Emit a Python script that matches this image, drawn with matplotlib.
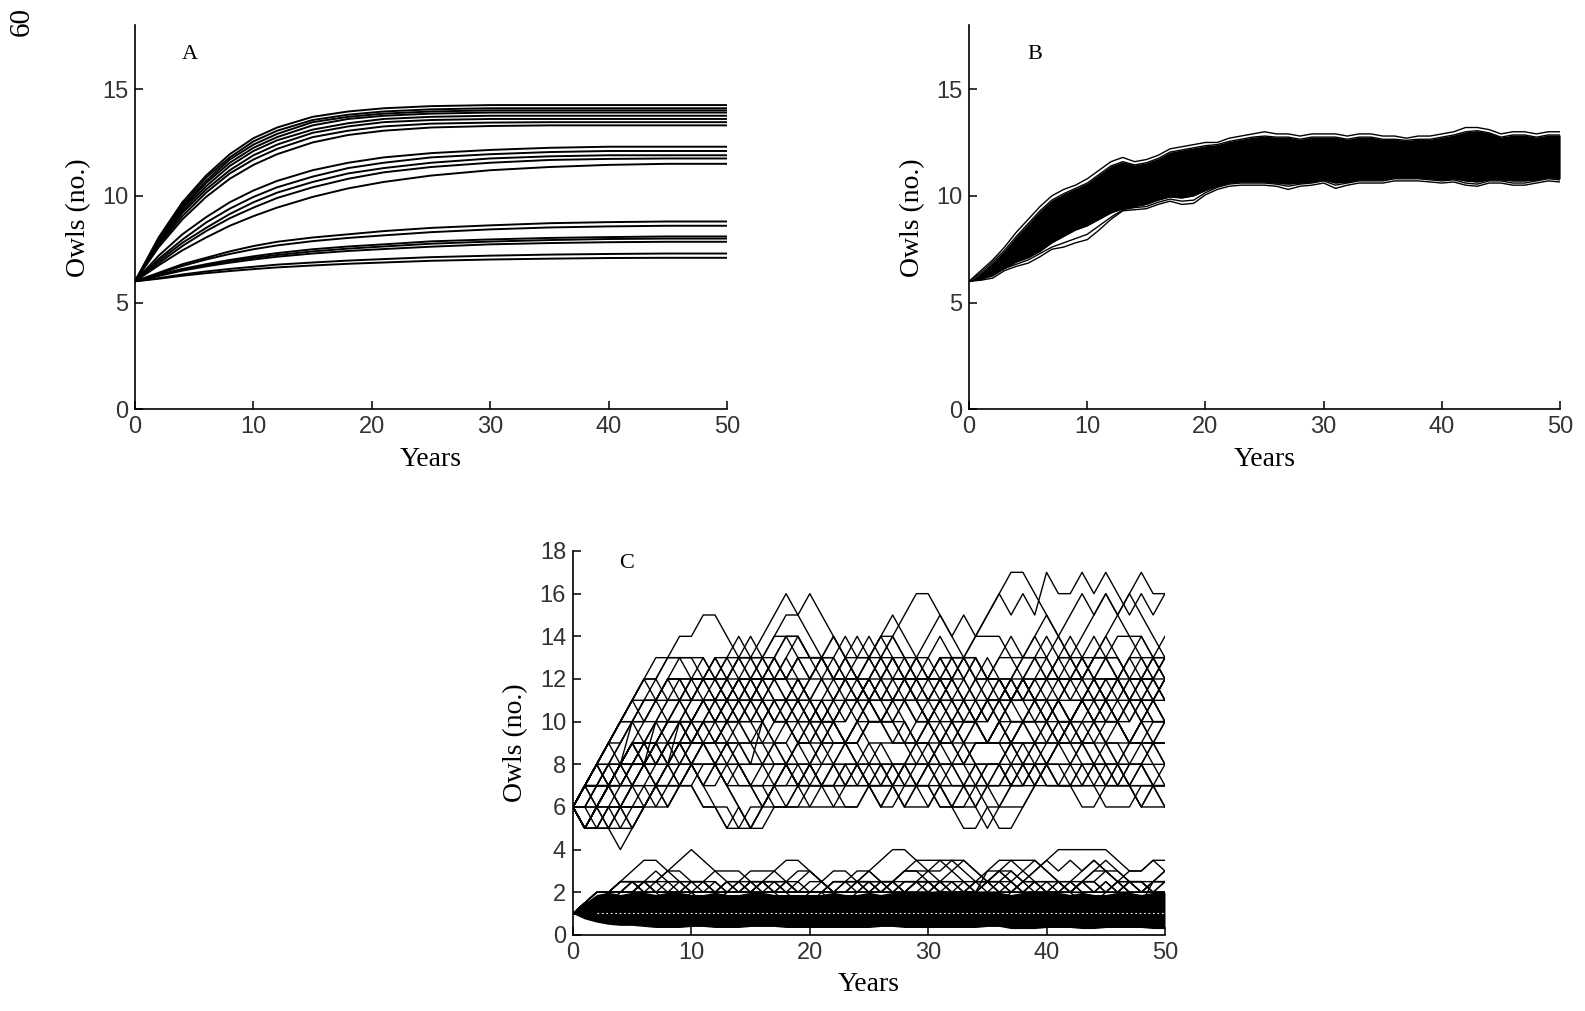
import numpy as np
import matplotlib
matplotlib.use("Agg")
import matplotlib.pyplot as plt

# ---------------- Panel A: deterministic trajectories ----------------
years_a = [0, 2, 4, 6, 8, 10, 12, 15, 18, 21, 25, 30, 35, 40, 45, 50]
a_top = [
    [6, 8.06, 9.7, 10.95, 11.95, 12.7, 13.2, 13.7, 13.95, 14.1, 14.2, 14.25, 14.25, 14.25, 14.25, 14.25],
    [6, 8.0, 9.6, 10.85, 11.8, 12.55, 13.05, 13.55, 13.8, 13.95, 14.05, 14.1, 14.1, 14.1, 14.1, 14.1],
    [6, 7.95, 9.5, 10.7, 11.7, 12.4, 12.9, 13.45, 13.7, 13.85, 13.95, 14.0, 14.0, 14.0, 14.0, 14.0],
    [6, 7.9, 9.4, 10.6, 11.55, 12.25, 12.75, 13.3, 13.6, 13.75, 13.85, 13.9, 13.9, 13.9, 13.9, 13.9],
    [6, 7.8, 9.3, 10.45, 11.4, 12.1, 12.6, 13.1, 13.4, 13.6, 13.7, 13.75, 13.75, 13.75, 13.75, 13.75],
    [6, 7.75, 9.2, 10.3, 11.2, 11.9, 12.4, 12.95, 13.25, 13.45, 13.55, 13.6, 13.6, 13.6, 13.6, 13.6],
    [6, 7.7, 9.05, 10.15, 11.05, 11.7, 12.2, 12.75, 13.05, 13.25, 13.38, 13.43, 13.45, 13.45, 13.45, 13.45],
    [6, 7.6, 8.9, 9.95, 10.8, 11.45, 11.95, 12.5, 12.85, 13.05, 13.2, 13.27, 13.3, 13.3, 13.3, 13.3],
]
a_mid = [
    [6, 7.2, 8.2, 9.0, 9.7, 10.25, 10.7, 11.2, 11.55, 11.8, 12.0, 12.15, 12.25, 12.3, 12.3, 12.3],
    [6, 7.05, 7.95, 8.75, 9.4, 9.95, 10.4, 10.9, 11.3, 11.55, 11.8, 11.95, 12.05, 12.1, 12.1, 12.1],
    [6, 6.95, 7.8, 8.5, 9.15, 9.7, 10.15, 10.65, 11.05, 11.3, 11.55, 11.75, 11.85, 11.9, 11.9, 11.9],
    [6, 6.85, 7.65, 8.35, 8.95, 9.45, 9.9, 10.4, 10.8, 11.1, 11.35, 11.55, 11.68, 11.73, 11.75, 11.75],
    [6, 6.75, 7.45, 8.05, 8.6, 9.05, 9.45, 9.95, 10.35, 10.65, 10.95, 11.2, 11.35, 11.45, 11.5, 11.5],
]
a_low = [
    [6, 6.4, 6.8, 7.1, 7.4, 7.65, 7.85, 8.05, 8.2, 8.35, 8.5, 8.62, 8.72, 8.77, 8.8, 8.8],
    [6, 6.35, 6.72, 7.02, 7.28, 7.5, 7.68, 7.88, 8.03, 8.15, 8.3, 8.43, 8.52, 8.57, 8.6, 8.6],
    [6, 6.3, 6.58, 6.8, 7.0, 7.17, 7.32, 7.5, 7.63, 7.73, 7.87, 7.96, 8.03, 8.07, 8.1, 8.1],
    [6, 6.28, 6.54, 6.75, 6.94, 7.1, 7.23, 7.4, 7.53, 7.63, 7.76, 7.86, 7.93, 7.98, 8.0, 8.0],
    [6, 6.25, 6.5, 6.7, 6.87, 7.02, 7.15, 7.3, 7.42, 7.51, 7.62, 7.73, 7.79, 7.83, 7.85, 7.85],
    [6, 6.15, 6.32, 6.46, 6.58, 6.68, 6.78, 6.88, 6.97, 7.04, 7.13, 7.2, 7.25, 7.28, 7.3, 7.3],
    [6, 6.12, 6.26, 6.38, 6.48, 6.57, 6.65, 6.74, 6.82, 6.88, 6.96, 7.02, 7.06, 7.09, 7.1, 7.1],
]

# ---------------- Panel B: band of stochastic trajectories ----------------
years_b = list(range(51))
b_upper_edge = [6.0, 6.5, 7.0, 7.6, 8.3, 8.9, 9.5, 10.0, 10.3, 10.5, 10.8,
                11.2, 11.6, 11.8, 11.6, 11.7, 11.9, 12.2, 12.3, 12.4, 12.5,
                12.5, 12.7, 12.8, 12.9, 13.0, 12.9, 12.9, 12.8, 12.9, 12.9,
                12.9, 12.8, 12.9, 12.9, 12.8, 12.8, 12.7, 12.8, 12.8, 12.9,
                13.0, 13.2, 13.2, 13.1, 12.9, 13.0, 13.0, 12.9, 13.0, 13.0]
b_lower_edge = [6.0, 6.05, 6.15, 6.5, 6.7, 6.85, 7.15, 7.5, 7.6, 7.8, 7.95,
                8.4, 8.9, 9.3, 9.35, 9.4, 9.6, 9.75, 9.6, 9.65, 10.05,
                10.3, 10.45, 10.5, 10.5, 10.5, 10.45, 10.3, 10.45, 10.5, 10.6,
                10.35, 10.5, 10.6, 10.6, 10.6, 10.7, 10.7, 10.7, 10.65, 10.6,
                10.65, 10.5, 10.45, 10.6, 10.6, 10.5, 10.5, 10.6, 10.7, 10.65]
b_lower_2 = [6.0, 6.1, 6.25, 6.6, 6.8, 7.0, 7.3, 7.6, 7.8, 8.0, 8.2,
             8.6, 9.0, 9.35, 9.45, 9.5, 9.7, 9.85, 9.75, 9.8, 10.15,
             10.4, 10.55, 10.6, 10.6, 10.6, 10.55, 10.45, 10.55, 10.6, 10.7,
             10.5, 10.6, 10.7, 10.7, 10.7, 10.8, 10.8, 10.8, 10.75, 10.7,
             10.75, 10.6, 10.55, 10.7, 10.7, 10.6, 10.6, 10.7, 10.8, 10.75]
b_core_low = [6.0, 6.1, 6.3, 6.6, 6.9, 7.1, 7.4, 7.8, 8.1, 8.4, 8.6,
              8.9, 9.2, 9.4, 9.5, 9.6, 9.8, 9.95, 9.9, 10.0, 10.25,
              10.45, 10.6, 10.65, 10.65, 10.65, 10.6, 10.55, 10.6, 10.65, 10.75,
              10.6, 10.65, 10.75, 10.75, 10.75, 10.85, 10.85, 10.85, 10.8, 10.75,
              10.8, 10.7, 10.65, 10.75, 10.75, 10.7, 10.7, 10.75, 10.85, 10.8]
b_core_high = [6.0, 6.4, 6.9, 7.45, 8.1, 8.7, 9.3, 9.8, 10.1, 10.35, 10.6,
               11.0, 11.4, 11.6, 11.45, 11.55, 11.75, 12.05, 12.15, 12.25, 12.35,
               12.4, 12.55, 12.65, 12.75, 12.8, 12.75, 12.75, 12.65, 12.75, 12.75,
               12.75, 12.65, 12.75, 12.75, 12.65, 12.65, 12.6, 12.65, 12.65, 12.75,
               12.85, 13.0, 13.05, 12.95, 12.75, 12.85, 12.85, 12.75, 12.85, 12.85]

# ---------------- Panel C: integer-valued trajectories ----------------
# upper group: owl counts per year 0..50, one base-36 digit per year
c_upper_runs = [
    "6789ABCCDEE FFEDDEFGFE DCDCBCDCBC DCBABCBCDC BCDCBABCBC",
    "6789ABCBCDD CDCDEDEFFG FEDEDCDCBA BCBA9ABCBA 9ABABCDCBC",
    "67889ABCDDD DCBCBCDEDC DEDCDEFEDC BCDEFGHHGF EDEFGFEDCD",
    "65554567678 987656789A BA98766789 A987655678 9ABA987678",
    "67889ABBCCB CDCBABCDED CBABCDEDCD EDCBABCDEF EDCDEFGFED",
    "6567898989A BABCBA9898 789A98789A BCBA9A9878 9ABCBA9A98",
    "67787898989 A9ABCBCDCB ABCBCDCBAB CDCDCBCBCD CBCDEDCDCB",
    "65656787898 7656567678 9A98787678 9A9A9ABCBA BCBABCBCDC",
    "6787898A9AB CBCDCDCBCB CDEDEDEFGG FEDCDCBCBA BABCBCBABC",
    "65676787898 9A9A9ABABA 9A9ABABA9A BABCBA989A BABABA9A9A",
    "67898A9ABCB CBCBABABCB CBCBCBCDCB CBABABCBAB CDCBCBABCB",
    "65676567878 7876567878 9898767898 7676567898 9A9898789A",
    "678787898A9 ABABCBABAB ABCBCBABCB ABCDCDEDED EFGFGFGHGG",
    "6789ABABCBC DCDEDCDCBC DEDCBCDCDE FEFEFGFGFH GGHGHGFGFG",
    "656789989A9 A9898A9ABA 9A9ABA9A9A 9898789A9A BABCBABABA",
    "676789ABABA BABCDCDCBA BABCBABCBA 9A9ABABCBC DCDCDCBCDC",
    "65656767878 9898789878 7878767676 7676787878 9898787676",
    "67878989ABA BCBCBCDCDC DCDCDEDCDC DCDCBCBCDE DEDEDCDEDE",
    "6567878989A BABABABA9A BCBABCBCBA BABA9A9ABA 9A9A9A9ABA",
    "65676567678 7878767878 7787877878 7878778787 7787877877",
    "6789AABBCCC CCDDCCBBCC DDCCDDCCDD CCDDCCBBCC DDCCDDCCDD",
    "6778899AABB BBAABBAABB AABBAABBAA BBAABBAABB AABBAABBAA",
    "66778899AAA 99AA99AA99 AA99AA99AA 99AA99AA99 AA99AA99AA",
    "66778888998 8899888899 8888998888 9988889988 8899889988",
    "67777887788 7788778877 8877778888 7777887788 7788778877",
    "6789ABCCBBC CDDCCDDEED DCCDDEEDDC CBBCCDDCCB BCCDDCCBBC",
    "67678899AA9 99AABBAA99 AABBCCBBAA 99AABBCCBB AABBCCBBAA",
    "65566776677 6655667788 7766778877 6655667788 7766778877",
    "67788999AAA ABBBCCCBBB AAABBBCCCB BBAAABBBCC CBBBAAABBB",
    "66777888999 AAA9998887 7788899988 8777888999 AAA9998887",
    "65566677788 8877766677 7888777666 7778889998 8777666777",
    "6789AAABBBC CCCDDDCCCB BBCCCDDDCC CBBBCCCDDD CCCBBBCCCD",
    "67778889999 AAABBBAAA9 999AAABBBA AA999AAABB BAAA999AAA",
    "65667778889 99AAA99988 8999AAA999 8889999AAA A999888999",
    "66555666777 6665556667 7778887778 8877766677 7888777666",
    "6789ABBBCCC BBBAAABBBC CCDDDCCCBB BAAABBBCCC DDDCCCDDDC",
    "6778889AAAB BBCCCBBBAA A999AAABBB CCCBBBAAA9 99AAABBBCC",
    "66677788899 9888777888 9999888777 8889998887 7778889998",
    "65556667888 9998887776 6677788877 7666777888 7778887776",
    "67899AAABBB CCCDDDEEED DDCCCBBBCC CDDDCCCBBB AAABBBCCCB",
    "65665567778 8899988877 7666777888 9998887778 8877788899",
    "67778999AAA BBBCCCBBBA AABBBAAA99 9AAABBBAAA 999AAA9999",
    "66678889AAA 99988899AA ABBBAAA999 8889999AAA BBBCCCBBBA",
    "6567788899A AABBBCCCDD DCCCBBBCCC DDDCCCBBBC CCDDDEEEDD",
    "65566667777 8887776666 7778888777 6667778889 9988877777",
    "6789ABCDDDC CCBBBCCCDD DCCCBBBCCC DDDEEEDDDC CCCDDDCCCD",
]
# lower group: values in half-owl units (digit = 2 x value), years 0..50
c_lower_runs = [
    "23445677654 4444456776 5445678877 7776544567 8888876677",
    "23344455678 7654444456 5444445676 7654567654 4567654456",
    "23444444445 5666544444 4444444556 6765677776 5456765445",
    "22344454444 4455666544 4444555666 5444454567 6767654444",
    "22344554444 4444444444 4556654444 5676545676 5444456676",
    "23445544334 4455444334 4445544455 5544334455 4433445544",
    "23344444555 5444455444 4334445555 4444555444 4455444455",
    "23345544444 3344554433 4455655444 3344556544 4455443355",
    "23344444444 4545454444 4444545454 5454444454 5454545444",
    "22344556544 3344444566 5444455665 4444665444 4456654444",
    "23444544454 4454445444 5445444454 4544565444 5444544456",
    "23444455444 5445544554 4554455445 5445544554 4554455445",
    "23344445555 4444555544 4455554444 5555444455 5544445555",
    "22334455665 5444554445 5665544455 4445566554 4455665544",
    "23445554445 5544455544 4555444555 4445554445 5544455544",
]
c_core_low = [1.0, 0.75, 0.6, 0.5, 0.45, 0.45, 0.4, 0.35, 0.35, 0.35, 0.4,
              0.4, 0.35, 0.35, 0.35, 0.4, 0.4, 0.4, 0.35, 0.35, 0.35,
              0.35, 0.35, 0.35, 0.35, 0.35, 0.4, 0.4, 0.35, 0.35, 0.35,
              0.35, 0.35, 0.35, 0.35, 0.4, 0.4, 0.3, 0.3, 0.3, 0.35,
              0.35, 0.35, 0.3, 0.3, 0.35, 0.35, 0.35, 0.35, 0.3, 0.3]
c_core_high = [1.0, 1.5, 1.9, 2.0, 1.9, 2.0, 2.0, 1.9, 2.0, 2.0, 1.9,
               1.9, 2.0, 1.9, 1.9, 2.0, 2.0, 1.9, 1.9, 1.9, 1.9,
               1.9, 2.0, 1.9, 1.9, 2.0, 1.9, 2.0, 2.0, 2.0, 2.0,
               2.1, 2.0, 2.1, 2.0, 2.0, 2.0, 1.9, 2.0, 2.0, 2.0,
               2.0, 1.9, 2.0, 1.9, 1.9, 2.0, 2.0, 1.9, 2.0, 2.0]

x_ticks = [0, 10, 20, 30, 40, 50]
ab_yticks = [0, 5, 10, 15]
c_yticks = list(range(0, 19, 2))

SERIF = ["Liberation Serif", "DejaVu Serif"]
TICKF = ["Liberation Sans Narrow", "Liberation Sans", "DejaVu Sans"]


def decode(run, scale=1.0):
    return [int(ch, 36) * scale for ch in run.replace(" ", "")]


def style(ax, yticks, letter, lx, ly):
    ax.set_xlim(0, 50)
    ax.set_ylim(0, 18)
    ax.set_xticks(x_ticks)
    ax.set_yticks(yticks)
    for s in ("top", "right"):
        ax.spines[s].set_visible(False)
    for s in ("left", "bottom"):
        ax.spines[s].set_linewidth(1.2)
    ax.tick_params(direction="in", length=6, width=1.1, pad=5)
    for lab in ax.get_xticklabels() + ax.get_yticklabels():
        lab.set_family(TICKF)
        lab.set_fontsize(17)
        lab.set_color("#333333")
    ax.set_xlabel("Years", family=SERIF, fontsize=20, labelpad=6)
    ax.set_ylabel("Owls (no.)", family=SERIF, fontsize=20, labelpad=8)
    ax.text(lx, ly, letter, family=SERIF, fontsize=16, ha="center", va="center")
    ax.patch.set_alpha(0)


fig = plt.figure(figsize=(15.85, 10.11), dpi=100)
axA = fig.add_axes([0.0852, 0.595, 0.3735, 0.3803])
axB = fig.add_axes([0.6114, 0.595, 0.3729, 0.3803])
axC = fig.add_axes([0.3615, 0.0752, 0.3735, 0.3798])

# Panel A
for grp in (a_top, a_mid, a_low):
    for line in grp:
        axA.plot(years_a, line, color="black", lw=1.4, solid_joinstyle="miter")
style(axA, ab_yticks, "A", 4.6, 16.6)

# Panel B
axB.fill_between(years_b, b_core_low, b_core_high, color="black", lw=0)
for line in (b_upper_edge, b_lower_edge, b_lower_2, b_core_high, b_core_low):
    axB.plot(years_b, line, color="black", lw=1.0)
style(axB, ab_yticks, "B", 5.6, 16.6)

# Panel C
for run in c_upper_runs:
    vals = decode(run)
    axC.plot(range(len(vals)), vals, color="black", lw=1.0)
axC.fill_between(years_b, c_core_low, c_core_high, color="black", lw=0)
axC.plot(years_b[2:], [1.05] * 49, color="white", lw=0.8, ls=(0, (1.5, 2.5)))
for run in c_lower_runs:
    vals = decode(run, 0.5)
    axC.plot(range(len(vals)), vals, color="black", lw=1.0)
style(axC, c_yticks, "C", 4.5, 17.4)

fig.text(22 / 1585, 1 - 22 / 1011, "60", rotation=90, family=SERIF, fontsize=21,
         ha="center", va="center")

fig.savefig("out.png", dpi=100)
